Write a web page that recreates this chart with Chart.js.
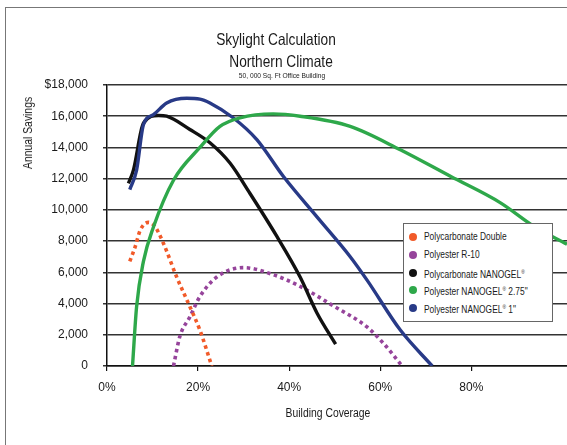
<!DOCTYPE html>
<html>
<head>
<meta charset="utf-8">
<title>Skylight Calculation</title>
<script src="https://cdn.jsdelivr.net/npm/chart.js"></script>
<style>
  body { margin: 0; width: 567px; height: 445px; overflow: hidden; background: #fff;
         font-family: 'Liberation Sans', Arial, sans-serif; color: #1a1a1a; }
  .frame { position: absolute; left: 5px; top: 7px; width: 700px; height: 600px;
           border-left: 1.5px solid #777; border-top: 1.5px solid #777; }
  .wrap { position: absolute; left: 0; top: 0; width: 567px; height: 445px; }
  .txt { position: absolute; white-space: nowrap; transform: translateX(-50%) scaleX(0.83); }
  .t1 { left: 276px; top: 30px; font-size: 16.5px; }
  .t2 { left: 281px; top: 52px; font-size: 16.5px; }
  .t3 { left: 282px; top: 71px; font-size: 8px; }
  .xt { left: 328px; top: 406px; font-size: 12.5px; }
  .yt { position: absolute; left: 28px; top: 133px; font-size: 12.5px; white-space: nowrap;
        transform: translate(-50%, -50%) rotate(-90deg) scaleX(0.83); }
  .legend { position: absolute; left: 403px; top: 223px; width: 150px; height: 99px;
            background: #fff; border: 1.5px solid #666; box-sizing: border-box; padding-top: 4px; }
  .legend div { height: 17.8px; line-height: 17.8px; font-size: 10.5px; padding-left: 20px; position: relative; }
  .legend span.lbl { display: inline-block; transform: scaleX(0.8); transform-origin: left center; white-space: nowrap; }
  .legend span.dot { position: absolute; left: 5px; top: 5px; width: 8px; height: 8px; border-radius: 50%; }
  .legend sup { font-size: 6px; vertical-align: 4px; }
</style>
</head>
<body>
<div class="frame"></div>
<div class="wrap"><canvas id="chart" width="567" height="445"></canvas></div>
<div class="txt t1">Skylight Calculation</div>
<div class="txt t2">Northern Climate</div>
<div class="txt t3">50, 000 Sq. Ft Office Building</div>
<div class="txt xt">Building Coverage</div>
<div class="yt">Annual Savings</div>
<div class="legend" id="legend"></div>
<script>
// Building coverage (%) and annual savings ($)
const pcDoubleX = [5, 6.2, 7.3, 9.1, 10.5, 12.4, 15.3, 18.2, 20.4, 23];
const pcDoubleY = [6700, 7650, 8700, 9200, 8950, 7850, 5700, 3800, 2300, 0];

const peR10X = [14.6, 16, 18.2, 20.4, 24.1, 30, 36.5, 42.4, 49.7, 57.1, 60.7, 64.8];
const peR10Y = [0, 1900, 3150, 4450, 5700, 6300, 5850, 5100, 3850, 2500, 1450, 0];

const pcNanogelX = [4.7, 5.8, 8, 11.3, 13.1, 18.2, 22.6, 27, 31.4, 37.3, 42.4, 46.1, 50.2];
const pcNanogelY = [11700, 12550, 15550, 16050, 16000, 15150, 14300, 13000, 11050, 8300, 5700, 3400, 1400];

const pe275X = [5.6, 6.5, 8, 10.2, 14.6, 20.4, 24.8, 29.2, 36.5, 42.4, 53.4, 64.4, 75.4, 86.4, 93.7, 101];
const pe275Y = [0, 3800, 6700, 8900, 11900, 14000, 15350, 15900, 16150, 16000, 15350, 13850, 12150, 10450, 8950, 7800];

const pe1X = [5, 6.5, 8, 10.2, 13.1, 17.5, 20.4, 22.6, 27.7, 32.9, 38.7, 46.1, 53.4, 57.1, 64.4, 71.4];
const pe1Y = [11300, 12550, 15450, 16100, 16850, 17150, 17100, 16850, 15900, 14500, 12150, 9550, 7000, 5500, 2300, 0];

const seriesNames = ['Polycarbonate Double', 'Polyester R-10', 'Polycarbonate NANOGEL®',
                     'Polyester NANOGEL® 2.75"', 'Polyester NANOGEL® 1"'];
const xTicks = [0, 20, 40, 60, 80];
const yTicks = [0, 2000, 4000, 6000, 8000, 10000, 12000, 14000, 16000, 18000];

const colors = ['#f15a29', '#96449b', '#111111', '#2ea84a', '#283a87'];
const dotted = [true, true, false, false, false];
const xs = [pcDoubleX, peR10X, pcNanogelX, pe275X, pe1X];
const ys = [pcDoubleY, peR10Y, pcNanogelY, pe275Y, pe1Y];

function pts(x, y) {
  return x.map((v, i) => ({ x: v, y: y[i] }));
}

// draw order: dotted series under the solid ones
const order = [3, 4, 2, 0, 1];
const datasets = seriesNames.map((name, i) => ({
  label: name,
  data: pts(xs[i], ys[i]),
  borderColor: colors[i],
  backgroundColor: colors[i],
  borderWidth: dotted[i] ? 3.6 : 3.4,
  borderDash: dotted[i] ? [3.5, 3.5] : [],
  borderCapStyle: 'butt',
  showLine: true,
  pointRadius: 0,
  cubicInterpolationMode: 'monotone',
  order: order[i]
}));

// legend as html
const legend = document.getElementById('legend');
seriesNames.forEach((name, i) => {
  const row = document.createElement('div');
  const dot = document.createElement('span');
  dot.className = 'dot';
  dot.style.background = colors[i];
  row.appendChild(dot);
  const lbl = document.createElement('span');
  lbl.className = 'lbl';
  lbl.innerHTML = name.replace('®', '<sup>®</sup>');
  row.appendChild(lbl);
  legend.appendChild(row);
});

const font = { family: "'Liberation Sans', Arial, sans-serif", size: 12 };

new Chart(document.getElementById('chart'), {
  type: 'scatter',
  data: { datasets },
  options: {
    responsive: false,
    animation: false,
    devicePixelRatio: 1,
    layout: { padding: { left: 0, top: 85, right: 0, bottom: 0 } },
    plugins: { legend: { display: false }, tooltip: { enabled: false } },
    scales: {
      x: {
        type: 'linear',
        min: 0,
        max: 101,
        afterBuildTicks: (scale) => { scale.ticks = xTicks.map(v => ({ value: v })); },
        afterFit: (scale) => { scale.height = 79; },
        ticks: { font, color: '#1a1a1a', padding: 9, callback: (v) => v + '%' },
        grid: { drawOnChartArea: false, color: '#111', lineWidth: 1.2, tickLength: 5 },
        border: { color: '#111', width: 1.5 }
      },
      y: {
        min: 0,
        max: 18000,
        afterBuildTicks: (scale) => { scale.ticks = yTicks.map(v => ({ value: v })); },
        afterFit: (scale) => { scale.width = 107; },
        ticks: {
          font, color: '#1a1a1a', padding: 15,
          callback: (v) => (v === 18000 ? '$' : '') + v.toLocaleString('en-US')
        },
        grid: { color: '#333', lineWidth: 1.5, tickLength: 4 },
        border: { color: '#111', width: 1.5 }
      }
    }
  }
});
</script>
</body>
</html>
